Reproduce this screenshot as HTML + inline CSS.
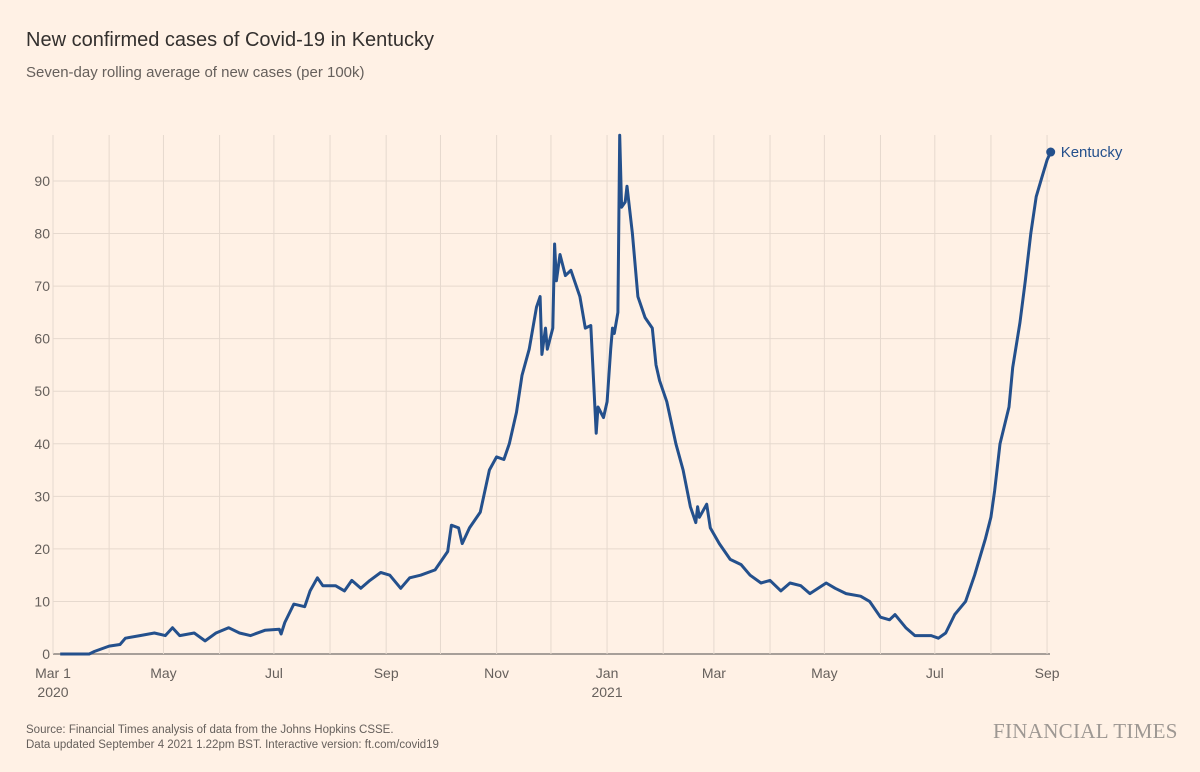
<!DOCTYPE html>
<html><head><meta charset="utf-8"><style>
html,body{margin:0;padding:0;background:#fff1e5;}
body{width:1200px;height:772px;position:relative;overflow:hidden;font-family:"Liberation Sans",sans-serif;}
.t{position:absolute;white-space:nowrap;}
</style></head><body>
<div class="t" style="left:26px;top:29px;font-size:20px;color:#33302e;">New confirmed cases of Covid-19 in Kentucky</div>
<div class="t" style="left:26px;top:64px;font-size:15px;color:#66605c;">Seven-day rolling average of new cases (per 100k)</div>
<svg id="chart" width="1200" height="700" style="position:absolute;left:0;top:0;"></svg>
<div class="t" style="left:26px;top:723px;font-size:11.5px;color:#66605c;line-height:15px;">Source: Financial Times analysis of data from the Johns Hopkins CSSE.<br>Data updated September 4 2021 1.22pm BST. Interactive version: ft.com/covid19</div>
<div class="t" style="left:993px;top:719px;font-family:'Liberation Serif',serif;font-size:21px;color:#9e9893;letter-spacing:0.3px;">FINANCIAL TIMES</div>
<script>
const days=[4,20,23,31,37,40,48,56,62,66,70,78,84,90,97,103,109,117,125,126,128,133,139,142,146,149,156,161,165,170,175,181,186,192,197,203,211,218,220,224,226,230,236,241,245,249,252,256,259,263,267,269,270,272,273,276,277,278,280,283,286,291,294,297,300,301,304,306,308,309,310,312,313,314,316,317,320,323,327,331,333,335,339,344,348,352,355,356,357,361,363,368,374,380,385,391,396,402,407,413,418,427,432,438,446,451,457,462,465,471,476,485,489,493,498,504,509,515,518,520,523,528,530,534,537,540,543,546,549,551];
const values=[0,0,0.5,1.5,1.8,3,3.5,4,3.5,5,3.5,4,2.5,4,5,4,3.5,4.5,4.7,3.8,6,9.5,9,12,14.5,13,13,12,14,12.5,14,15.5,15,12.5,14.5,15,16,19.5,24.5,24,21,24,27,35,37.5,37,40,46,53,58,66,68,57,62,58,62,78,71,76,72,73,68,62,62.5,42,47,45,48,58,62,61,65,98.7,85,86,89,80,68,64,62,55,52,48,40,35,28,25,28,26,28.5,24,21,18,17,15,13.5,14,12,13.5,13,11.5,13.5,12.5,11.5,11,10,7,6.5,7.5,5,3.5,3.5,3,4,7.5,10,15,22,26,31,40,47,54.5,63,71,80,87,90.5,94,95.5];
const yTicks=[0,10,20,30,40,50,60,70,80,90];
const monthDays=[0,31,61,92,122,153,184,214,245,275,306,337,365,396,426,457,487,518,549];
const xLabels=[["Mar 1","2020"],null,["May"],null,["Jul"],null,["Sep"],null,["Nov"],null,["Jan","2021"],null,["Mar"],null,["May"],null,["Jul"],null,["Sep"]];
const NS="http://www.w3.org/2000/svg";
const svg=document.getElementById('chart');
const X=d=>53+d*1.8107;
const Y=v=>654-v*5.256;
function mk(t,a){const e=document.createElementNS(NS,t);for(const k in a)e.setAttribute(k,a[k]);svg.appendChild(e);return e;}
yTicks.forEach(v=>{
  const l=mk('line',{x1:53,x2:1050,y1:Y(v),y2:Y(v),stroke:v===0?'#8a8480':'#e6d9ce','stroke-width':v===0?1.5:1});
  
  
  const t=mk('text',{x:50,y:Y(v)+5,'text-anchor':'end','font-size':14,fill:'#66605c','font-family':'Liberation Sans, sans-serif'});
  t.textContent=v;
  
  
});
monthDays.forEach((d,i)=>{
  const g=mk('line',{x1:X(d),x2:X(d),y1:135,y2:654,stroke:'#e6d9ce','stroke-width':1});
  
  
  const lab=xLabels[i];
  if(lab){lab.forEach((s,j)=>{
    const t=mk('text',{x:X(d),y:678+j*19,'text-anchor':'middle','font-size':14,fill:'#66605c','font-family':'Liberation Sans, sans-serif'});
    t.textContent=s;
    
    
  });}
});
const pts=days.map((d,i)=>X(d).toFixed(1)+','+Y(values[i]).toFixed(1)).join(' ');
const line=mk('polyline',{points:pts,fill:'none',stroke:'#24508c','stroke-width':3,'stroke-linejoin':'round'});


const n=days.length-1;
const dot=mk('circle',{cx:X(days[n]),cy:Y(values[n]),r:4.5,fill:'#24508c'});


const lt=mk('text',{x:X(days[n])+10,y:Y(values[n])+5,'font-size':15,fill:'#24508c','font-family':'Liberation Sans, sans-serif'});
lt.textContent='Kentucky';


</script>
</body></html>
